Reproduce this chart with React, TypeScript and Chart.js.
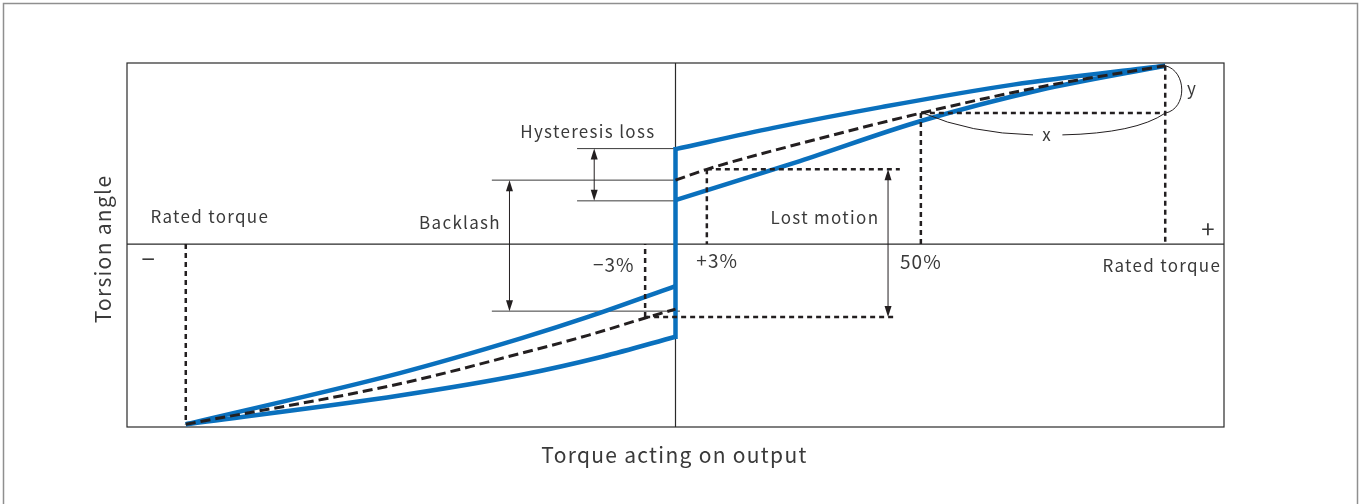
import React, { useEffect, useRef } from 'react';
import { Chart, registerables } from 'chart.js';

Chart.register(...registerables);

// Scale ranges: torque in % of rated torque, torsion angle in relative units
const X_MIN = -112;
const X_MAX = 112;
const Y_MIN = -101.5;
const Y_MAX = 100.5;

// Blue hysteresis loop
const posUpperX = [0, 20, 42, 69, 100];
const posUpperY = [52.7, 64.5, 76, 88.5, 99];
const posLowerX = [0, 25.4, 50.1, 74.4, 100];
const posLowerY = [24.4, 46.1, 68.3, 85.5, 99];
const negUpperX = [-100, -56.3, -31.4, -17.7, 0];
const negUpperY = [-100, -71.6, -52.2, -40.3, -23.3];
const negLowerX = [-100, -56.3, -31.4, -15, 0];
const negLowerY = [-100, -84, -72.5, -62.5, -51.4];
const jumpX = [0, 0];
const jumpY = [-51.4, 52.7];

// Dashed mean curve
const meanPosX = [0, 6.4, 30, 50.1, 75, 100];
const meanPosY = [35.5, 41.5, 59, 72.7, 87.5, 99];
const meanNegX = [-100, -56.3, -31.4, -17.7, -6.2, 0];
const meanNegY = [-100, -77.5, -60.5, -50.5, -41.0, -36.1];

// Dotted reference lines [x1, y1, x2, y2]
const dottedLines: number[][] = [
  [6.4, 41.5, 45.8, 41.5],
  [6.4, 41.5, 6.4, 0],
  [-6.2, -40.5, 44.8, -40.5],
  [-6.2, -40.5, -6.2, 0],
  [-100, 0, -100, -100],
  [50.1, 72.7, 50.1, 0],
  [50.1, 72.7, 100, 72.7],
  [100, 99, 100, 0],
];

// Thin guide lines [x1, y1, x2, y2]
const guideLines: number[][] = [
  [-20.1, 53, 0, 53],
  [-20.1, 24.0, 0, 24.0],
  [-37.5, 35.5, 0, 35.5],
  [-37.5, -37.2, 0.9, -37.2],
];

// Double-headed arrows [x, yTop, yBottom]
const arrows: number[][] = [
  [-16.6, 53, 24.0],
  [-33.9, 35.5, -37.2],
  [43.4, 41.5, -40.5],
];

// Text labels
const labelTexts = ['Hysteresis loss', 'Rated torque', 'Backlash', 'Lost motion', 'Rated torque', 'y', 'x'];
const labelX = [-17.9, -95.1, -44.0, 30.5, 99.3, 105.5, 75.9];
const labelY = [62.7, 15.5, 12.2, 15.0, -11.7, 86.6, 61.0];

// Percent tick labels
const pctTexts = ['\u22123%', '+3%', '50%'];
const pctX = [-12.6, 8.5, 50.1];
const pctY = [-11.5, -9.4, -10.0];

// Sign labels
const signTexts = ['+', '\u2212'];
const signX = [108.7, -107.7];
const signY = [8.3, -8.3];

const X_TITLE = 'Torque acting on output';
const Y_TITLE = 'Torsion angle';

const BLUE = '#0a70bd';
const INK = '#231f20';
const TEXT = '#3a3a3a';
const FONT = '"Noto Sans CJK JP", "Noto Sans", sans-serif';

const pts = (xs: number[], ys: number[]) => xs.map((x, i) => ({ x, y: ys[i] }));

const annotationPlugin = {
  id: 'annotations',
  beforeDatasetsDraw(chart: any) {
    const { ctx, chartArea: a, scales } = chart;
    const xs = scales.x;
    const ys = scales.y;
    ctx.save();
    // outer frame
    ctx.strokeStyle = '#8f8f8f';
    ctx.lineWidth = 1.5;
    ctx.strokeRect(3.5, 3.5, 1354, 700);
    // plot border
    ctx.strokeStyle = '#2a2a2a';
    ctx.lineWidth = 1.2;
    ctx.strokeRect(a.left, a.top, a.right - a.left, a.bottom - a.top);
    // axes through origin
    const x0 = xs.getPixelForValue(0);
    const y0 = ys.getPixelForValue(0);
    ctx.beginPath();
    ctx.moveTo(a.left, y0);
    ctx.lineTo(a.right, y0);
    ctx.moveTo(x0, a.top);
    ctx.lineTo(x0, a.bottom);
    ctx.stroke();
    ctx.restore();
  },
  afterDatasetsDraw(chart: any) {
    const { ctx, chartArea: a, scales } = chart;
    const px = (v: number) => scales.x.getPixelForValue(v);
    const py = (v: number) => scales.y.getPixelForValue(v);
    ctx.save();
    // arrows
    ctx.strokeStyle = INK;
    ctx.fillStyle = INK;
    ctx.lineWidth = 1;
    arrows.forEach(([x, yt, yb]) => {
      const X = px(x);
      const T = py(yt);
      const B = py(yb);
      ctx.beginPath();
      ctx.moveTo(X, T + 4);
      ctx.lineTo(X, B - 4);
      ctx.stroke();
      ctx.beginPath();
      ctx.moveTo(X, T);
      ctx.lineTo(X - 3.5, T + 11);
      ctx.lineTo(X + 3.5, T + 11);
      ctx.closePath();
      ctx.fill();
      ctx.beginPath();
      ctx.moveTo(X, B);
      ctx.lineTo(X - 3.5, B - 11);
      ctx.lineTo(X + 3.5, B - 11);
      ctx.closePath();
      ctx.fill();
    });
    // x bracket
    ctx.lineWidth = 1;
    ctx.beginPath();
    ctx.moveTo(px(50.6), py(72.7));
    ctx.quadraticCurveTo(px(60), py(61.5), px(73), py(60.6));
    ctx.moveTo(px(79), py(60.6));
    ctx.quadraticCurveTo(px(94), py(61.5), px(100), py(72.7));
    ctx.stroke();
    // y bracket
    ctx.beginPath();
    ctx.moveTo(px(100), py(99));
    ctx.bezierCurveTo(px(104.5), py(96), px(104.5), py(75), px(100), py(72.7));
    ctx.stroke();
    // labels
    ctx.fillStyle = TEXT;
    ctx.textAlign = 'center';
    ctx.textBaseline = 'middle';
    ctx.font = `17px ${FONT}`;
    (ctx as any).letterSpacing = '1.3px';
    labelTexts.forEach((t, i) => {
      ctx.fillText(t, px(labelX[i]), py(labelY[i]));
    });
    ctx.font = `19px ${FONT}`;
    (ctx as any).letterSpacing = '1px';
    pctTexts.forEach((t, i) => {
      ctx.fillText(t, px(pctX[i]), py(pctY[i]));
    });
    (ctx as any).letterSpacing = '0px';
    ctx.font = `24px ${FONT}`;
    signTexts.forEach((t, i) => {
      ctx.fillText(t, px(signX[i]), py(signY[i]));
    });
    // axis titles
    ctx.font = `21px ${FONT}`;
    (ctx as any).letterSpacing = '1.3px';
    ctx.fillText(X_TITLE, (a.left + a.right) / 2 - 1, a.bottom + 28);
    ctx.translate(103, (a.top + a.bottom) / 2 + 4);
    ctx.rotate(-Math.PI / 2);
    ctx.fillText(Y_TITLE, 0, 0);
    ctx.restore();
  },
};

export default function App() {
  const ref = useRef<HTMLCanvasElement>(null);
  useEffect(() => {
    if (!ref.current) return;
    const blue = (data: any[], extra: any = {}) => ({
      data,
      borderColor: BLUE,
      borderWidth: 4.5,
      pointRadius: 0,
      showLine: true,
      fill: false,
      cubicInterpolationMode: 'monotone',
      order: 3,
      ...extra,
    });
    const datasets: any[] = [
      blue(pts(posUpperX, posUpperY)),
      blue(pts(posLowerX, posLowerY)),
      blue(pts(negUpperX, negUpperY)),
      blue(pts(negLowerX, negLowerY)),
      blue(pts(jumpX, jumpY), { borderCapStyle: 'square', cubicInterpolationMode: 'default' }),
      {
        data: pts(meanPosX, meanPosY),
        borderColor: INK, borderWidth: 3, borderDash: [10, 5], pointRadius: 0,
        showLine: true, fill: false, cubicInterpolationMode: 'monotone', order: 2,
      },
      {
        data: pts(meanNegX, meanNegY),
        borderColor: INK, borderWidth: 3, borderDash: [10, 5], pointRadius: 0,
        showLine: true, fill: false, cubicInterpolationMode: 'monotone', order: 2,
      },
      ...dottedLines.map(([x1, y1, x2, y2]) => ({
        data: [{ x: x1, y: y1 }, { x: x2, y: y2 }],
        borderColor: INK, borderWidth: 2.5, borderDash: [5, 4], pointRadius: 0,
        showLine: true, fill: false, order: 1,
      })),
      ...guideLines.map(([x1, y1, x2, y2]) => ({
        data: [{ x: x1, y: y1 }, { x: x2, y: y2 }],
        borderColor: '#3a3a3a', borderWidth: 1, pointRadius: 0,
        showLine: true, fill: false, order: 4,
      })),
    ];
    const chart = new Chart(ref.current, {
      type: 'scatter',
      data: { datasets },
      options: {
        responsive: false,
        animation: false,
        events: [],
        layout: { padding: { left: 127, top: 63, right: 136, bottom: 77 } },
        scales: {
          x: { type: 'linear', min: X_MIN, max: X_MAX, display: false },
          y: { type: 'linear', min: Y_MIN, max: Y_MAX, display: false },
        },
        plugins: { legend: { display: false }, tooltip: { enabled: false } },
      },
      plugins: [annotationPlugin],
    });
    return () => chart.destroy();
  }, []);
  return (
    <div style={{ position: 'fixed', left: 0, top: 0, width: 1360, height: 504, background: '#fff' }}>
      <canvas ref={ref} width={1360} height={504} style={{ width: 1360, height: 504, display: 'block' }} />
    </div>
  );
}
